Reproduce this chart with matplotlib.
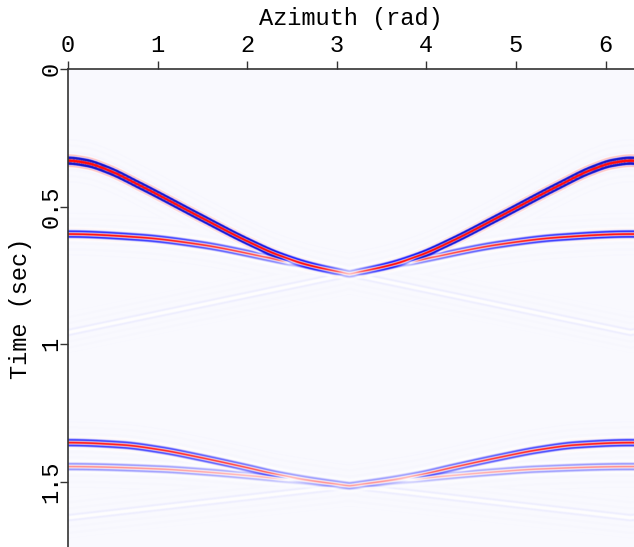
import numpy as np
import matplotlib
matplotlib.use("Agg")
import matplotlib.pyplot as plt
from matplotlib.colors import LinearSegmentedColormap

# Traveltime picks (s) over half a revolution of azimuth (rad); gather is symmetric about pi
e1_az = [0.0, 0.2, 0.435, 0.804, 1.473, 2.0, 2.366, 2.73, 3.1416]
e1_t = [0.333, 0.341, 0.366, 0.424, 0.538, 0.626, 0.679, 0.716, 0.745]
e2_az = [0.0, 0.80, 1.473, 2.366, 3.1416]
e2_t = [0.600, 0.612, 0.638, 0.695, 0.745]
e3_az = [0.0, 3.1416]
e3_t = [0.958, 0.745]
e4_az = [0.0, 0.6, 1.03, 1.46, 2.0, 2.37, 3.1416]
e4_t = [1.359, 1.367, 1.385, 1.412, 1.450, 1.477, 1.516]
e5_az = [0.0, 1.03, 1.46, 2.37, 3.1416]
e5_t = [1.446, 1.455, 1.464, 1.490, 1.516]
e6_az = [0.0, 3.1416]
e6_t = [1.632, 1.516]

# Amplitude at azimuth 0 and at azimuth pi for each event
amp_zero = [4.0, 1.1, 0.05, 1.0, 0.45, 0.05]
amp_pi = [0.1, 0.15, 0.05, 0.2, 0.15, 0.05]

x_ticks = [0, 1, 2, 3, 4, 5, 6]
y_ticks = [0, 0.5, 1, 1.5]
y_ticklabels = ["0", "0.5", "1", "1.5"]

AZ_MAX = 6.317
T_MAX = 1.738
FREQ = 45.0
SIGMA = 0.013

az = np.linspace(0, AZ_MAX, 700)
t = np.linspace(0, T_MAX, 1400)
fold = np.mod(az, 2 * np.pi)
fold = np.minimum(fold, 2 * np.pi - fold)


def hermite_curve(p_az, p_t, q):
    """Shape-preserving cubic through the picks; flat at azimuth 0."""
    x = np.asarray(p_az, float)
    y = np.asarray(p_t, float)
    h = np.diff(x)
    delta = np.diff(y) / h
    d = np.zeros_like(y)
    for k in range(1, len(x) - 1):
        if delta[k - 1] * delta[k] > 0:
            w1 = 2 * h[k] + h[k - 1]
            w2 = h[k] + 2 * h[k - 1]
            d[k] = (w1 + w2) / (w1 / delta[k - 1] + w2 / delta[k])
    d[0] = 0.0
    d[-1] = delta[-1]
    i = np.clip(np.searchsorted(x, q) - 1, 0, len(x) - 2)
    s = (q - x[i]) / h[i]
    h00 = 2 * s**3 - 3 * s**2 + 1
    h10 = s**3 - 2 * s**2 + s
    h01 = -2 * s**3 + 3 * s**2
    h11 = s**3 - s**2
    return h00 * y[i] + h10 * h[i] * d[i] + h01 * y[i + 1] + h11 * h[i] * d[i + 1]


def traveltime(p_az, p_t):
    if len(p_az) == 2:
        return np.interp(fold, p_az, p_t)
    return hermite_curve(p_az, p_t, fold)


events = [(e1_az, e1_t), (e2_az, e2_t), (e3_az, e3_t),
          (e4_az, e4_t), (e5_az, e5_t), (e6_az, e6_t)]

gather = np.zeros((t.size, az.size))
taper = np.abs(np.cos(fold / 2))
for (p_az, p_t), a0, api in zip(events, amp_zero, amp_pi):
    tt = traveltime(p_az, p_t)
    amp = api + (a0 - api) * taper
    tau = t[:, None] - tt[None, :]
    gather += amp[None, :] * np.cos(2 * np.pi * FREQ * tau) * np.exp(-(tau / SIGMA) ** 2)

stops = [
    (-1.0, (0.10, 0.10, 0.78)),
    (-0.6, (0.10, 0.10, 1.00)),
    (-0.25, (0.55, 0.55, 1.00)),
    (0.0, (0.978, 0.978, 0.996)),
    (0.04, (1.0, 1.0, 1.0)),
    (0.25, (1.0, 0.80, 0.80)),
    (0.6, (1.0, 0.30, 0.30)),
    (1.0, (1.0, 0.05, 0.05)),
]
cmap = LinearSegmentedColormap.from_list(
    "bwr_gather", [((v + 1) / 2, c) for v, c in stops])

W, H, DPI = 634, 547, 100
fig = plt.figure(figsize=(W / DPI, H / DPI), dpi=DPI)
ax = fig.add_axes([68 / W, 0.0, 1 - 68 / W, 1 - 69 / H])
ax.imshow(gather, cmap=cmap, vmin=-1, vmax=1, aspect="auto",
          extent=[0, AZ_MAX, T_MAX, 0], interpolation="bilinear")
ax.set_xlim(0, AZ_MAX)
ax.set_ylim(T_MAX, 0)

font = dict(family="Liberation Mono", size=17)
ax.xaxis.tick_top()
ax.xaxis.set_label_position("top")
ax.set_xticks(x_ticks)
ax.set_xticklabels([str(v) for v in x_ticks], **font)
ax.set_yticks(y_ticks)
ax.set_yticklabels(y_ticklabels, rotation=90, va="center", **font)
ax.set_xlabel("Azimuth (rad)", labelpad=6, **font)
ax.set_ylabel("Time (sec)", labelpad=5, **font)
ax.tick_params(axis="both", direction="out", length=6, width=1.0,
               color="#333333")
ax.tick_params(axis="x", pad=3)
ax.tick_params(axis="y", pad=-2)
for side in ("bottom", "right"):
    ax.spines[side].set_visible(False)
for side in ("top", "left"):
    ax.spines[side].set_color("#333333")
    ax.spines[side].set_linewidth(1.2)

fig.savefig("out.png", dpi=DPI)
